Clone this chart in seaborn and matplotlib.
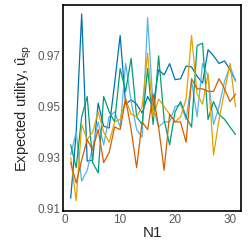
import matplotlib
matplotlib.use("Agg")
import matplotlib.pyplot as plt
import seaborn as sns
import pandas as pd

sns.set_theme(style="white")
plt.rcParams["font.family"] = ["Liberation Sans", "DejaVu Sans"]
plt.rcParams["mathtext.fontset"] = "custom"
plt.rcParams["mathtext.rm"] = "Liberation Sans"
plt.rcParams["mathtext.it"] = "Liberation Sans:italic"

n1 = list(range(1, 32))

# expected utility per run
run_a = [0.914, 0.940, 0.9865, 0.9286, 0.929, 0.9514, 0.9423, 0.9416, 0.9593, 0.978,
         0.951, 0.9527, 0.951, 0.9475, 0.954, 0.950, 0.9645, 0.9625, 0.9669, 0.9606,
         0.961, 0.966, 0.9656, 0.962, 0.9593, 0.9724, 0.970, 0.967, 0.968, 0.9645, 0.9603]
run_b = [0.931, 0.940, 0.9207, 0.925, 0.934, 0.944, 0.935, 0.946, 0.948, 0.942,
         0.967, 0.952, 0.941, 0.938, 0.985, 0.950, 0.942, 0.944, 0.944, 0.950,
         0.951, 0.945, 0.960, 0.946, 0.967, 0.962, 0.943, 0.950, 0.960, 0.966, 0.960]
run_c = [0.935, 0.926, 0.946, 0.954, 0.928, 0.924, 0.954, 0.948, 0.944, 0.965,
         0.956, 0.969, 0.946, 0.943, 0.965, 0.943, 0.970, 0.945, 0.935, 0.948,
         0.952, 0.946, 0.942, 0.974, 0.975, 0.945, 0.952, 0.947, 0.945, 0.942, 0.939]
run_d = [0.930, 0.913, 0.943, 0.937, 0.940, 0.948, 0.940, 0.936, 0.944, 0.945,
         0.953, 0.947, 0.946, 0.950, 0.971, 0.946, 0.953, 0.950, 0.947, 0.944,
         0.946, 0.953, 0.978, 0.955, 0.951, 0.963, 0.931, 0.945, 0.956, 0.967, 0.950]
run_e = [0.928, 0.920, 0.929, 0.937, 0.933, 0.941, 0.928, 0.932, 0.942, 0.941,
         0.953, 0.941, 0.926, 0.944, 0.941, 0.955, 0.942, 0.925, 0.947, 0.944,
         0.944, 0.936, 0.961, 0.957, 0.957, 0.956, 0.956, 0.961, 0.957, 0.952, 0.955]

runs = {"a": run_a, "b": run_b, "c": run_c, "d": run_d, "e": run_e}
colors = {"a": "#0072B2", "b": "#56B4E9", "c": "#009E73", "d": "#E69F00", "e": "#D55E00"}

df = pd.concat([pd.DataFrame({"N1": n1, "u": v, "run": k}) for k, v in runs.items()])

fig = plt.figure(figsize=(2.49, 2.49), dpi=100)
ax = fig.add_axes([0.253, 0.153, 0.715, 0.827])
sns.lineplot(data=df, x="N1", y="u", hue="run", palette=colors, linewidth=0.9,
             legend=False, ax=ax)

ax.set_xlim(-0.4, 32)
ax.set_ylim(0.909, 0.99)
ax.set_xticks([0, 10, 20, 30])
ax.set_yticks([0.91, 0.93, 0.95, 0.97])
ax.set_yticklabels(["0.91", "0.93", "0.95", "0.97"])
ax.tick_params(length=0, labelsize=8.5, labelcolor="#5a5a5a", pad=2)
ax.set_xlabel("N1", fontsize=11, labelpad=0)
ax.set_ylabel(r"Expected utility, $\hat{\mathrm{u}}_{\mathrm{sp}}$", fontsize=10.5, labelpad=2)
for s in ax.spines.values():
    s.set_visible(True)
    s.set_color("black")
    s.set_linewidth(1.2)

fig.savefig("out.png", dpi=100)
